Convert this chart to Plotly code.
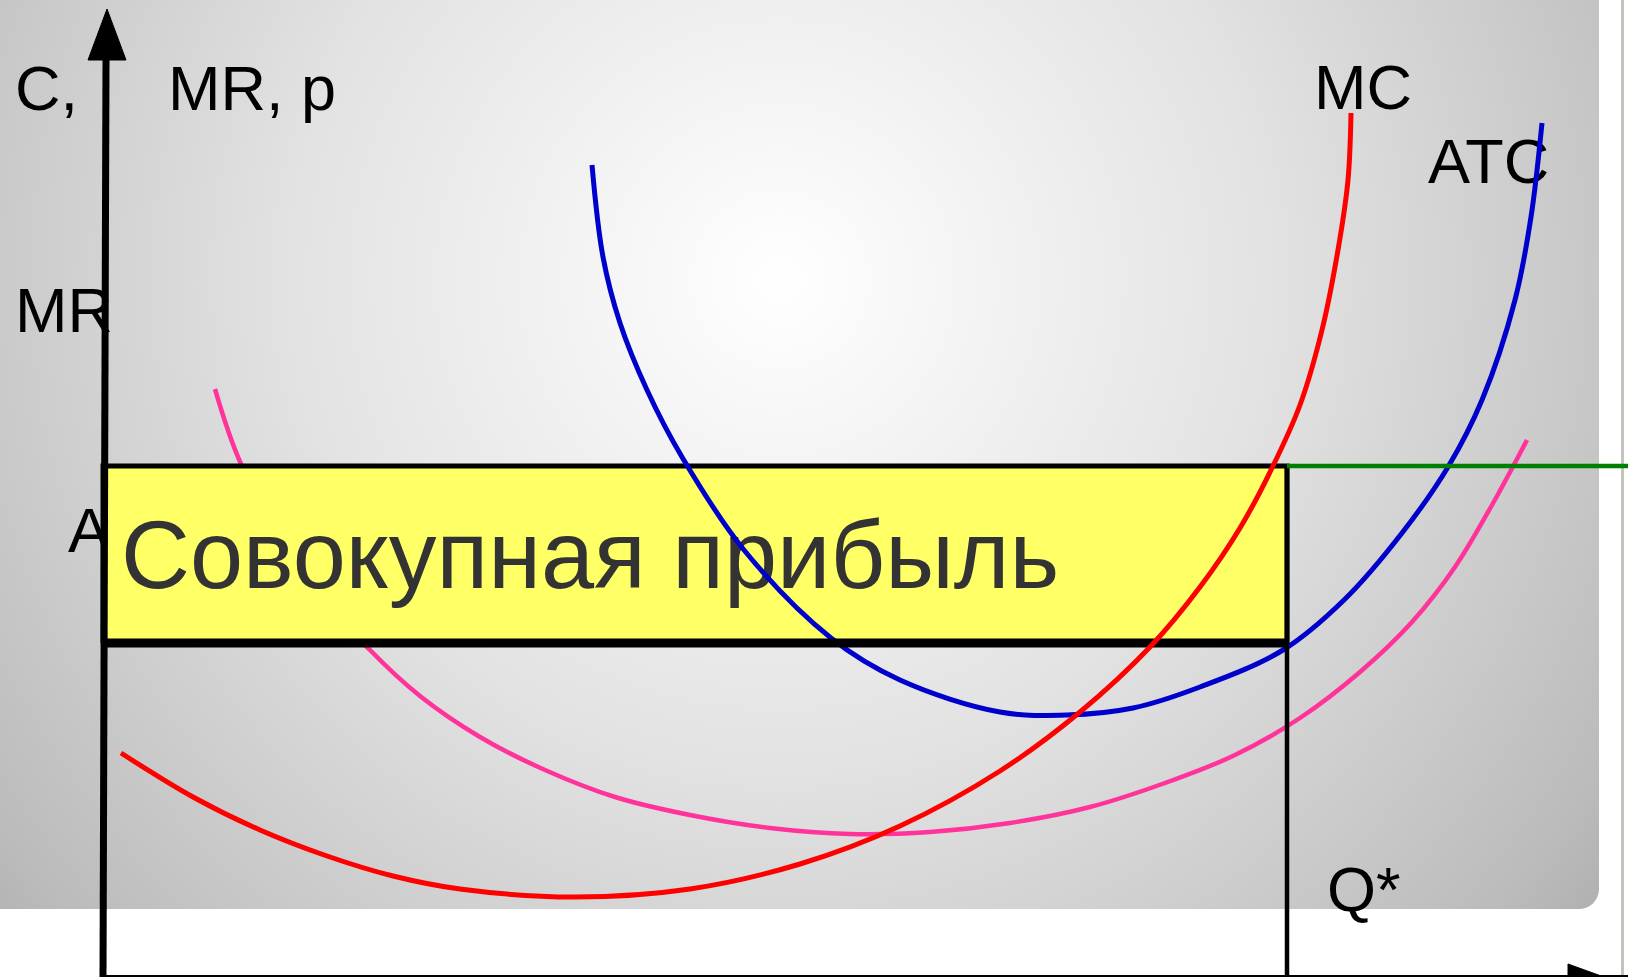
import base64
import plotly.graph_objects as go

# quantity / cost coordinates (origin at the axes crossing)
mc_q = [18, 90, 157, 224, 290, 357, 471, 587, 697, 797, 897, 977, 1047, 1097, 1137, 1169, 1197, 1219, 1235, 1245, 1248]
mc_p = [224, 180, 147, 121, 101, 88, 80, 88, 113, 151, 206, 265, 330, 390, 449, 509, 572, 647, 727, 797, 864]

atc_q = [489, 500, 517, 544, 579, 641, 728, 797, 897, 964, 1030, 1097, 1180, 1241, 1299, 1345, 1379, 1412, 1428, 1439]
atc_p = [812, 720, 654, 587, 520, 427, 339, 297, 265, 262, 269, 290, 327, 377, 444, 510, 577, 677, 760, 854]

avc_q = [112, 138, 197, 266, 317, 377, 442, 512, 587, 667, 747, 827, 907, 987, 1062, 1132, 1197, 1257, 1309, 1352,
         1389, 1424]
avc_p = [588, 513, 407, 328, 281, 240, 207, 180, 162, 149, 143, 145, 154, 170, 194, 222, 259, 305, 355, 410,
         472, 537]

q_star = 1184
price = 511          # MR = p
atc_at_q = 334
q_max = 1525
p_max = 977

box_q = [0, q_star, q_star, 0, 0]
box_p = [atc_at_q, atc_at_q, price, price, atc_at_q]

label_text = ["C,", "MR, p", "MR", "A", "MC", "ATC", "Q*"]
label_q = [-88, 65, -88, -35, 1211, 1325, 1224]
label_p = [883, 883, 661, 441, 884, 810, 82]

profit_text = "Совокупная прибыль"
profit_q = 18
profit_p = 413

# axis arrows
yaxis_q = [0, 3]
yaxis_p = [0, 917]
yarrow_q = [-15, 23, 4, -15]
yarrow_p = [917, 917, 968, 917]
xarrow_q = [1465, 1465, 1501, 1465]
xarrow_p = [13, -13, 0, 13]

FONT = "Arial, Liberation Sans, sans-serif"

svg = """<svg xmlns="http://www.w3.org/2000/svg" width="1628" height="977" viewBox="0 0 1628 977">
<defs><radialGradient id="g" gradientUnits="userSpaceOnUse" cx="780" cy="280" r="1150">
<stop offset="0" stop-color="#ffffff"/>
<stop offset="0.43" stop-color="#e2e2e2"/>
<stop offset="0.66" stop-color="#cccccc"/>
<stop offset="0.83" stop-color="#bbbbbb"/>
<stop offset="1" stop-color="#a0a0a0"/>
</radialGradient></defs>
<rect x="-40" y="-40" width="1639" height="949" rx="20" ry="20" fill="url(#g)"/>
<rect x="1621" y="0" width="3" height="977" fill="#c4c4bc"/>
</svg>"""
bg = "data:image/svg+xml;base64," + base64.b64encode(svg.encode("utf-8")).decode("ascii")

fig = go.Figure()


def line(q, p, color, width, shape="linear"):
    fig.add_trace(go.Scatter(
        x=q, y=p, mode="lines", hoverinfo="skip",
        line=dict(color=color, width=width, shape=shape, smoothing=1.0, simplify=False),
    ))


# labels sit under the lines
fig.add_trace(go.Scatter(
    x=label_q, y=label_p, mode="text", text=label_text,
    textposition="middle right", hoverinfo="skip",
    textfont=dict(family=FONT, size=63, color="black"),
))

line(avc_q, avc_p, "#ff3399", 4.5, "spline")

# profit rectangle
fig.add_trace(go.Scatter(
    x=box_q, y=box_p, mode="lines", fill="toself", fillcolor="#ffff66",
    line=dict(color="black", width=5), hoverinfo="skip",
))
fig.add_trace(go.Scatter(
    x=[profit_q], y=[profit_p], mode="text", text=[profit_text],
    textposition="middle right", hoverinfo="skip",
    textfont=dict(family=FONT, size=95.5, color="#333333"),
))

line(atc_q, atc_p, "#0000cc", 5, "spline")

line([0, q_star], [atc_at_q, atc_at_q], "black", 9)
line([q_star, q_star], [0, price], "black", 4.5)
line([q_star, q_max + 10], [price, price], "#008000", 4.5)

line(mc_q, mc_p, "#ff0000", 5, "spline")

# axes
line(yaxis_q, yaxis_p, "black", 7)
line([0, q_max], [0, 0], "black", 4)
for aq, ap in [(yarrow_q, yarrow_p), (xarrow_q, xarrow_p)]:
    fig.add_trace(go.Scatter(
        x=aq, y=ap, mode="lines", fill="toself", fillcolor="black",
        line=dict(color="black", width=1), hoverinfo="skip",
    ))

fig.update_layout(
    width=1628, height=977,
    margin=dict(l=0, r=0, t=0, b=0),
    showlegend=False,
    paper_bgcolor="white",
    plot_bgcolor="rgba(0,0,0,0)",
    xaxis=dict(range=[-103, q_max], visible=False, fixedrange=True),
    yaxis=dict(range=[0, p_max], visible=False, fixedrange=True),
    images=[dict(
        source=bg, xref="paper", yref="paper", x=0, y=1,
        sizex=1, sizey=1, sizing="stretch", layer="below",
        xanchor="left", yanchor="top",
    )],
)

fig.write_html(
    "out.html",
    config={"displayModeBar": False},
    post_script="document.body.style.margin='0px';",
)
